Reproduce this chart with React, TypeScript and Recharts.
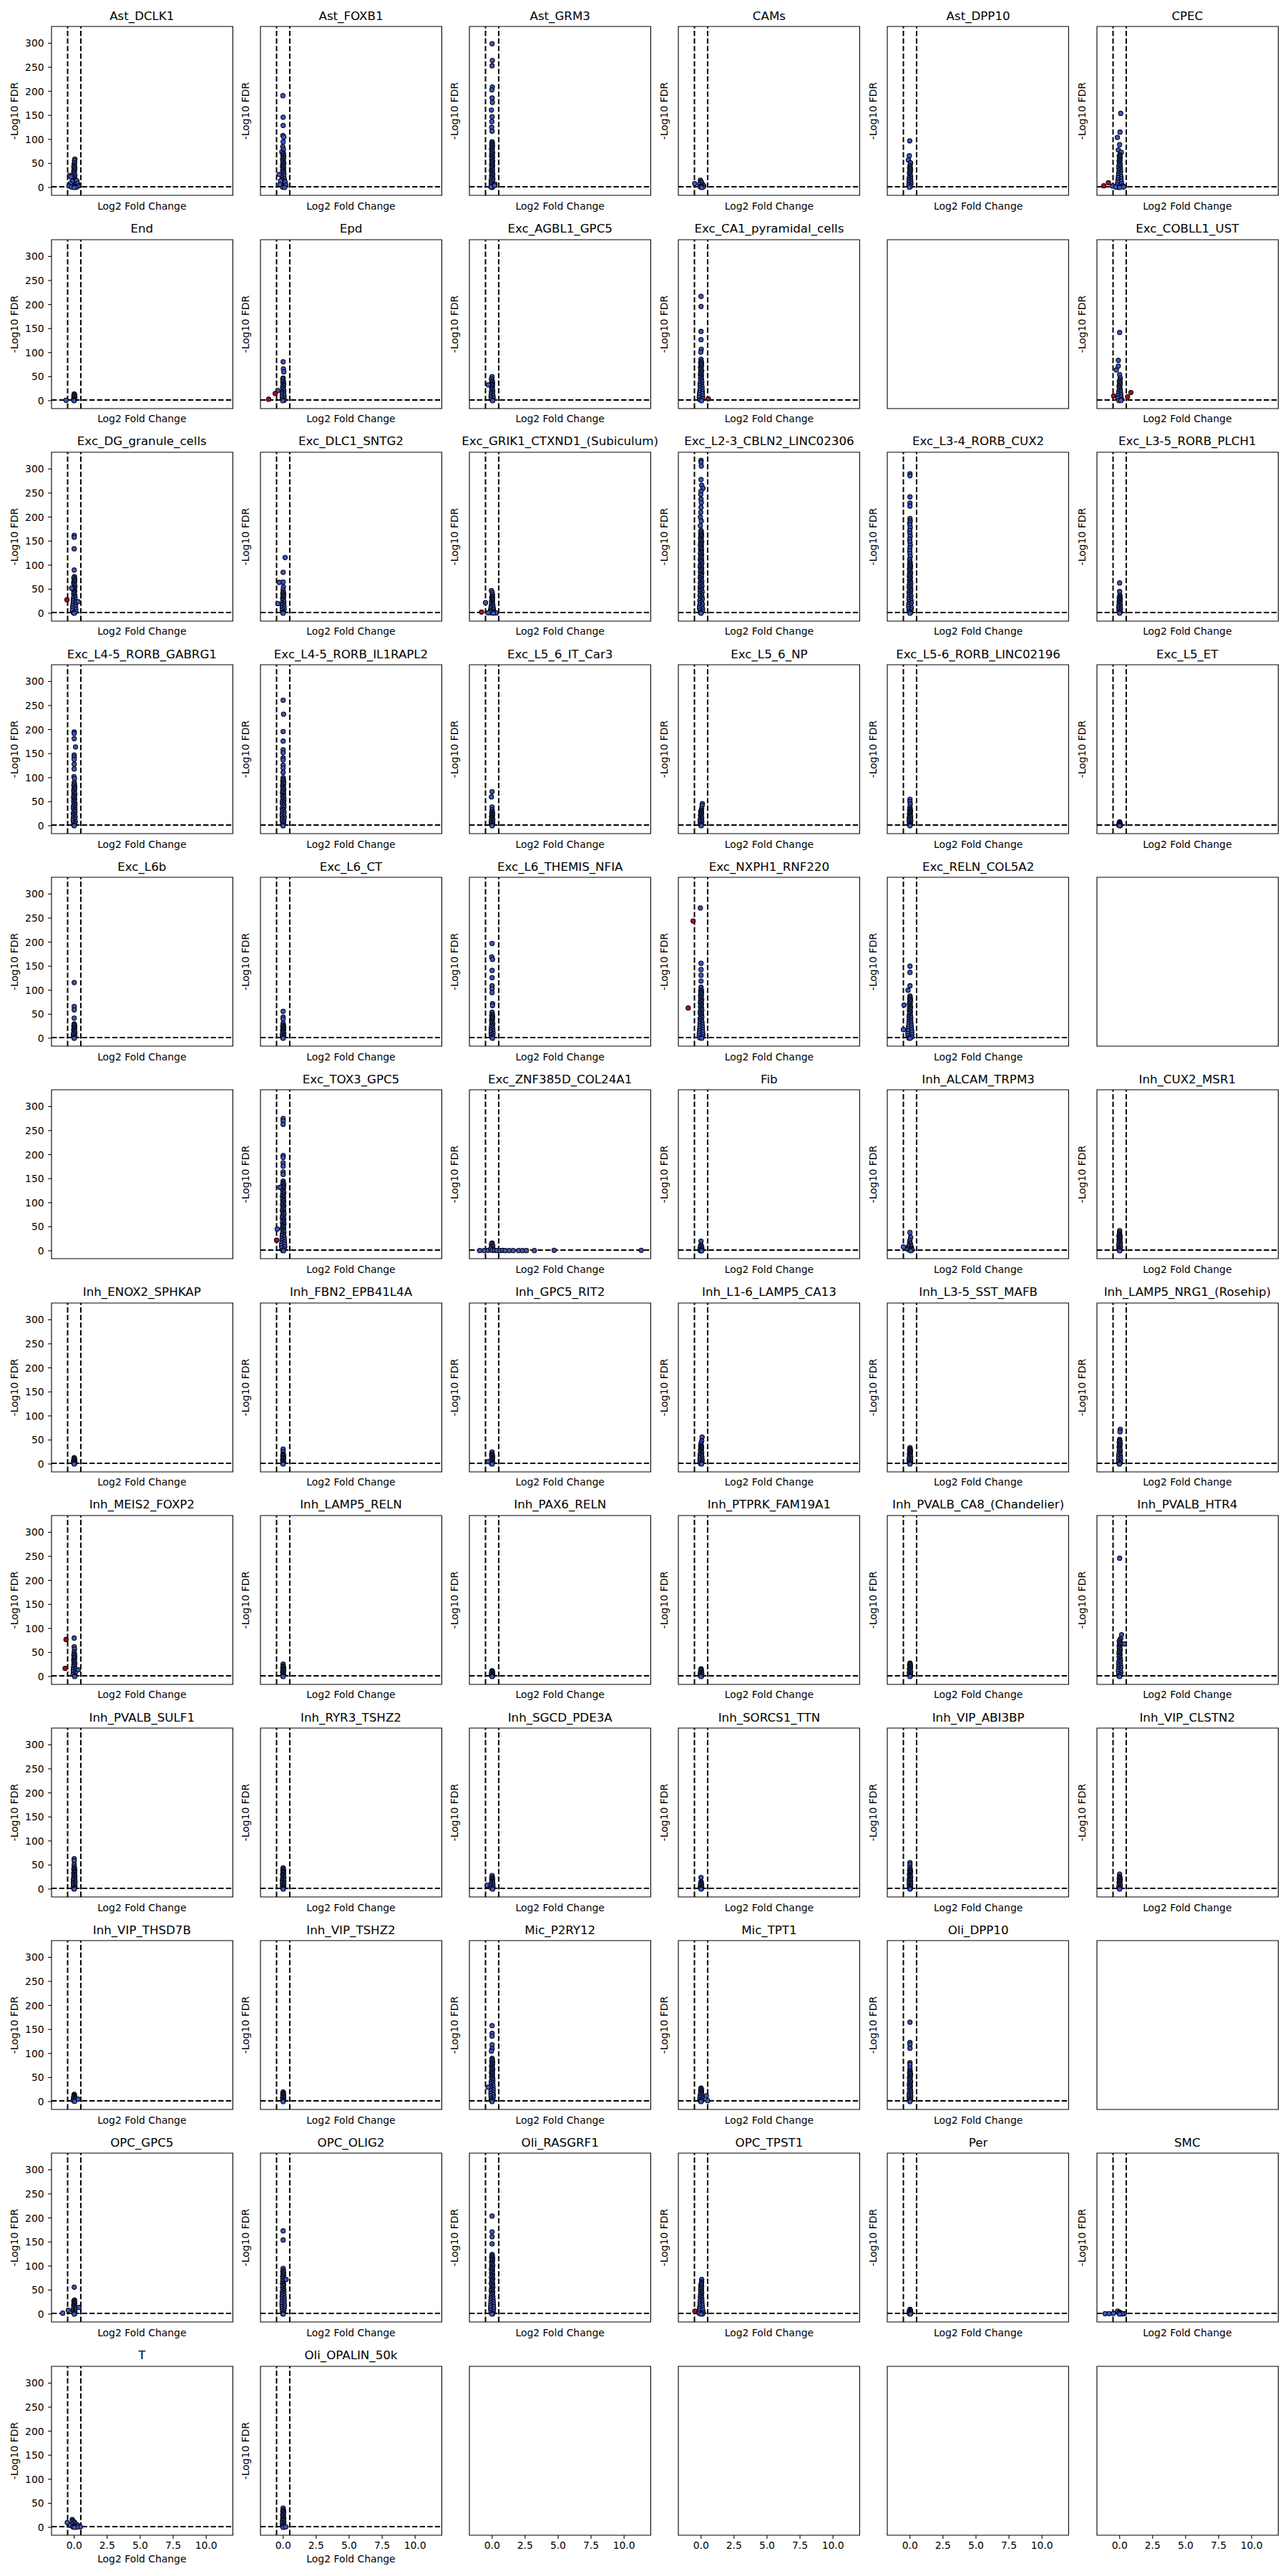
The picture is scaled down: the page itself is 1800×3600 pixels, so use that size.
import React from 'react';
import { ScatterChart, Scatter, XAxis, YAxis, ReferenceLine, ReferenceArea } from 'recharts';

type Pt = [number, number];

// ---------------- data (log2FC, -log10 FDR) ----------------
const astDCLK1: Pt[] = [[0.05,59],[0.02,56],[0.03,52],[0,49],[0.02,46],[-0.03,43.5],[0.04,41],[-0.01,38.5],[0.03,36],[-0.04,33.5],[0.01,31],[-0.02,28.5],[0.05,26],[-0.06,23.5],[0.03,21],[-0.05,18.5],[0.06,16],[-0.08,13.5],[0.08,11],[-0.1,8.5],[0.1,6],[-0.12,3.5],[0.05,1],[-0.35,25],[-0.25,22],[0.2,14],[-0.15,13],[-0.3,8],[0.25,8],[-0.4,3],[0.3,3],[-0.2,1],[0.15,0.5],[0,0]];
const astFOXB1: Pt[] = [[-0.02,191],[0,146],[0,129],[-0.02,108],[0.05,105],[0,95],[-0.03,85],[0.02,79],[-0.1,74],[0.02,71],[-0.03,68.5],[0.04,66],[-0.01,63.5],[0.03,61],[-0.04,58.5],[0.01,56],[-0.02,53.5],[0.05,51],[-0.03,48.5],[0.02,46],[-0.05,43.5],[0.03,41],[0,38.5],[-0.04,36],[0.04,33.5],[-0.02,31],[0.06,28.5],[-0.06,26],[0.05,23.5],[-0.07,21],[0.08,18.5],[-0.08,16],[0.1,13.5],[-0.1,11],[0.12,8.5],[-0.12,6],[0.1,3.5],[-0.05,1],[-0.3,27],[-0.2,14],[0.15,11],[-0.25,6],[0.2,5],[0.1,0]];
const astGRM3: Pt[] = [[0,299],[0.02,264],[0,253],[0.02,209],[-0.02,203],[0,186],[0.02,177],[-0.05,161],[0,147],[-0.02,137],[-0.03,125],[0,117],[0,95],[0.02,92.5],[-0.03,90],[0.03,87.5],[-0.01,85],[0.02,82.5],[-0.04,80],[0.01,77.5],[-0.02,75],[0.04,72.5],[-0.03,70],[0.02,67.5],[-0.04,65],[0.03,62.5],[0,60],[-0.03,57.5],[0.04,55],[-0.02,52.5],[0.02,50],[-0.04,47.5],[0.04,45],[0,42.5],[-0.03,40],[0.03,37.5],[-0.05,35],[0.02,32.5],[-0.02,30],[0.05,27.5],[-0.04,25],[0.03,22.5],[-0.03,20],[0.06,17.5],[-0.06,15],[0.04,12.5],[-0.07,10],[0.07,7.5],[-0.05,5],[0.05,2.5],[0,0],[0.22,7],[0.18,4],[-0.1,1]];
const cams: Pt[] = [[-0.05,15],[0,12],[0.05,10],[-0.1,7],[0.1,6],[0.2,4],[0,3],[-0.05,1],[0.15,1],[0.05,0],[-0.48,8]];
const astDPP10: Pt[] = [[-0.02,97],[-0.05,66],[-0.12,57],[0.05,51],[0,46],[0.02,43],[-0.03,40.5],[0.04,38],[-0.01,35.5],[0.03,33],[-0.04,30.5],[0.01,28],[-0.02,25.5],[0.05,23],[-0.05,20.5],[0.04,18],[-0.06,15.5],[0.06,13],[-0.07,10.5],[0.07,8],[-0.08,5.5],[0.06,3],[-0.04,0.5]];
const cpec: Pt[] = [[0.08,154],[0.03,115],[-0.17,104],[0,89],[-0.1,78],[0.12,73],[0.02,68],[-0.03,65.5],[0.04,63],[-0.01,60.5],[0.03,58],[-0.04,55.5],[0.01,53],[-0.02,50.5],[0.05,48],[-0.05,45.5],[0.04,43],[-0.06,40.5],[0.06,38],[-0.03,35.5],[0.07,33],[-0.07,30.5],[0.05,28],[-0.08,25.5],[0.09,23],[-0.1,20.5],[0.1,18],[-0.12,15.5],[0.12,13],[-0.14,10.5],[0.15,8],[-0.18,5.5],[0.2,3],[-0.1,0.5],[0.25,3],[-0.54,3],[0.3,1],[-0.3,1],[0,0]];
const cpecRed: Pt[] = [[-1.2,3.5],[-0.85,10]];
const endo: Pt[] = [[0,14],[0.03,12],[-0.03,10],[0.05,8],[-0.02,6],[0.04,4],[-0.05,2.5],[0.02,1],[-0.02,0],[-0.62,1]];
const epd: Pt[] = [[0,81],[0.02,66],[0.05,60],[0,47],[-0.03,45],[0.02,41],[-0.03,38.5],[0.04,36],[-0.01,33.5],[0.03,31],[-0.04,28.5],[0.01,26],[-0.02,23.5],[0.05,21],[-0.05,18.5],[0.04,16],[-0.06,13.5],[0.06,11],[-0.07,8.5],[0.07,6],[-0.05,3.5],[0.08,1],[-0.4,21],[-0.03,0]];
const epdRed: Pt[] = [[-0.6,15],[-1.1,3]];
const excAGBL1: Pt[] = [[0,50],[-0.05,45],[0.02,41],[-0.03,38.5],[0.04,36],[-0.01,33.5],[0.03,31],[-0.04,28.5],[0.01,26],[-0.02,23.5],[0.05,21],[-0.05,18.5],[0.04,16],[-0.06,13.5],[0.06,11],[-0.08,8.5],[0.08,6],[-0.06,3.5],[0.05,1],[-0.3,33],[0.04,0]];
const excCA1: Pt[] = [[0,217],[0,196],[0,144],[0,127],[0.02,107],[-0.02,101],[0,86],[0.02,82],[-0.03,79.5],[0.04,77],[-0.01,74.5],[0.03,72],[-0.04,69.5],[0.01,67],[-0.02,64.5],[0.05,62],[-0.03,59.5],[0.02,57],[-0.05,54.5],[0.03,52],[0,49.5],[-0.04,47],[0.04,44.5],[-0.02,42],[0.06,39.5],[-0.06,37],[0.05,34.5],[-0.07,32],[0.07,29.5],[-0.05,27],[0.08,24.5],[-0.08,22],[0.09,19.5],[-0.1,17],[0.1,14.5],[-0.12,12],[0.12,9.5],[-0.14,7],[0.12,4.5],[-0.08,2],[0.04,0]];
const excCA1Red: Pt[] = [[0.55,4]];
const excCOBLL1: Pt[] = [[0,142],[-0.1,84],[-0.1,72],[0,54],[0.05,47],[0.02,43],[-0.03,40.5],[0.04,38],[-0.01,35.5],[0.03,33],[-0.04,30.5],[0.01,28],[-0.02,25.5],[0.05,23],[-0.05,20.5],[0.06,18],[-0.07,15.5],[0.08,13],[-0.1,10.5],[0.1,8],[-0.12,5.5],[0.14,3],[-0.05,0.5],[0.1,0.5],[-0.25,64]];
const excCOBLL1Red: Pt[] = [[0.85,17],[-0.45,10],[0.6,8]];
const excDG: Pt[] = [[0,162],[0,158],[0,134],[0,90],[0.02,76],[-0.03,73.5],[0.04,71],[-0.01,68.5],[0.03,66],[-0.04,63.5],[0.01,61],[-0.02,58.5],[0.05,56],[-0.03,53.5],[0.02,51],[-0.05,48.5],[0.03,46],[0,43.5],[-0.04,41],[0.04,38.5],[-0.02,36],[0.06,33.5],[-0.06,31],[0.05,28.5],[-0.07,26],[0.07,23.5],[-0.08,21],[0.09,18.5],[-0.1,16],[0.1,13.5],[-0.12,11],[0.12,8.5],[-0.14,6],[0.12,3.5],[-0.06,1],[-0.2,52],[0.3,24],[0,0]];
const excDGRed: Pt[] = [[-0.55,28]];
const excDLC1: Pt[] = [[0.15,116],[0,85],[0,65],[0.02,55],[0,49],[0.02,44],[-0.03,41.5],[0.04,39],[-0.01,36.5],[0.03,34],[-0.04,31.5],[0.01,29],[-0.02,26.5],[0.05,24],[-0.05,21.5],[0.04,19],[-0.06,16.5],[0.06,14],[-0.07,11.5],[0.07,9],[-0.06,6.5],[0.05,4],[-0.03,1.5],[-0.3,64],[-0.4,20],[0,0]];
const excGRIK1: Pt[] = [[-0.05,47],[0,43],[0.03,39],[0.02,35],[-0.03,33],[0.04,31],[-0.01,29],[0.03,27],[-0.04,25],[0.01,23],[-0.02,21],[0.05,19],[-0.05,17],[0.06,15],[-0.07,13],[0.08,11],[-0.1,9],[0.1,7],[-0.12,5],[0.14,3],[-0.1,1],[-0.5,22],[-0.15,3],[0.15,2],[0.3,0.5],[-0.3,1],[0.1,0]];
const excGRIK1Red: Pt[] = [[-0.8,2.5]];
const excL23: Pt[] = [[0,318],[0,314],[0.02,306],[0,278],[0.05,266],[0.15,260],[0,254],[-0.02,247],[0,237],[0.02,230],[0,220],[-0.02,210],[-0.05,200],[0.02,192],[-0.05,182],[0,172],[0.02,169],[-0.03,166.5],[0.04,164],[-0.01,161.5],[0.03,159],[-0.04,156.5],[0.01,154],[-0.02,151.5],[0.05,149],[-0.03,146.5],[0.02,144],[-0.05,141.5],[0.03,139],[0,136.5],[-0.04,134],[0.04,131.5],[-0.02,129],[0.02,126.5],[-0.05,124],[0.05,121.5],[0,119],[-0.03,116.5],[0.03,114],[-0.06,111.5],[0.04,109],[-0.01,106.5],[0.06,104],[-0.04,101.5],[0.02,99],[-0.06,96.5],[0.05,94],[-0.02,91.5],[0.03,89],[-0.05,86.5],[0.06,84],[0,81.5],[-0.04,79],[0.04,76.5],[-0.06,74],[0.02,71.5],[-0.02,69],[0.06,66.5],[-0.05,64],[0.03,61.5],[-0.03,59],[0.07,56.5],[-0.07,54],[0.01,51.5],[0.05,49],[-0.06,46.5],[0.08,44],[-0.04,41.5],[0.03,39],[-0.08,36.5],[0.07,34],[-0.02,31.5],[0.09,29],[-0.09,26.5],[0.04,24],[-0.06,21.5],[0.1,19],[-0.1,16.5],[0.06,14],[-0.12,11.5],[0.12,9],[-0.08,6.5],[0.1,4],[-0.05,1.5],[0,0]];
const excL34: Pt[] = [[0,290],[0,286],[0,242],[0,229],[0,223],[0,197],[0.02,192],[-0.02,188],[0,184],[0.02,178],[-0.02,172],[0,166],[0.02,160],[-0.02,154],[0,148],[0.02,142],[0,136],[-0.02,130],[0,124],[0.02,118],[-0.02,112],[0,107],[0.02,104],[-0.03,101.5],[0.04,99],[-0.01,96.5],[0.03,94],[-0.04,91.5],[0.01,89],[-0.02,86.5],[0.05,84],[-0.03,81.5],[0.02,79],[-0.05,76.5],[0.03,74],[0,71.5],[-0.04,69],[0.04,66.5],[-0.02,64],[0.06,61.5],[-0.05,59],[0.03,56.5],[-0.06,54],[0.05,51.5],[-0.01,49],[0.06,46.5],[-0.07,44],[0.02,41.5],[-0.04,39],[0.07,36.5],[-0.06,34],[0.04,31.5],[-0.08,29],[0.08,26.5],[-0.03,24],[0.09,21.5],[-0.09,19],[0.05,16.5],[-0.1,14],[0.1,11.5],[-0.07,9],[0.08,6.5],[-0.06,4],[0.04,1.5],[0,0]];
const excL35: Pt[] = [[0,63],[0,45],[0.02,37],[0.02,34],[-0.03,32],[0.04,30],[-0.01,28],[0.03,26],[-0.04,24],[0.01,22],[-0.02,20],[0.05,18],[-0.05,16],[0.04,14],[-0.06,12],[0.06,10],[-0.05,8],[0.05,6],[-0.04,4],[0.03,2],[0,0]];
const excL45G: Pt[] = [[0,195],[0,192],[0,181],[0.1,164],[0,147],[0,143],[0,138],[0,128],[0,118],[-0.02,102],[0.02,98],[0,90],[0.02,86],[-0.03,83.5],[0.04,81],[-0.01,78.5],[0.03,76],[-0.04,73.5],[0.01,71],[-0.02,68.5],[0.05,66],[-0.03,63.5],[0.02,61],[-0.05,58.5],[0.03,56],[0,53.5],[-0.04,51],[0.04,48.5],[-0.02,46],[0.06,43.5],[-0.05,41],[0.03,38.5],[-0.06,36],[0.05,33.5],[-0.01,31],[0.06,28.5],[-0.07,26],[0.02,23.5],[-0.04,21],[0.07,18.5],[-0.06,16],[0.05,13.5],[-0.08,11],[0.08,8.5],[-0.05,6],[0.06,3.5],[-0.03,1],[0,0]];
const excL45I: Pt[] = [[0,261],[0.03,232],[0,196],[0,176],[0,158],[0,152],[0,141],[0,137],[0,126],[0,120],[0,111],[0,100],[0.02,96],[-0.03,93.5],[0.04,91],[-0.01,88.5],[0.03,86],[-0.04,83.5],[0.01,81],[-0.02,78.5],[0.05,76],[-0.03,73.5],[0.02,71],[-0.05,68.5],[0.03,66],[0,63.5],[-0.04,61],[0.04,58.5],[-0.02,56],[0.06,53.5],[-0.05,51],[0.03,48.5],[-0.06,46],[0.05,43.5],[-0.01,41],[0.06,38.5],[-0.07,36],[0.02,33.5],[-0.04,31],[0.07,28.5],[-0.06,26],[0.05,23.5],[-0.08,21],[0.08,18.5],[-0.05,16],[0.06,13.5],[-0.07,11],[0.05,8.5],[-0.04,6],[0.03,3.5],[-0.02,1],[0,0]];
const excL56IT: Pt[] = [[0,71],[-0.05,60],[0,39],[0,33],[0.02,29],[-0.03,27],[0.04,25],[-0.01,23],[0.03,21],[-0.04,19],[0.01,17],[-0.02,15],[0.05,13],[-0.05,11],[0.04,9],[-0.06,7],[0.05,5],[-0.03,3],[0.02,1],[0,0]];
const excL56NP: Pt[] = [[0.1,46],[0.08,42],[0.05,36],[0.02,32],[-0.03,30],[0.04,28],[-0.01,26],[0.03,24],[-0.04,22],[0.01,20],[-0.02,18],[0.05,16],[-0.05,14],[0.04,12],[-0.06,10],[0.06,8],[-0.05,6],[0.05,4],[-0.03,2],[0.02,0]];
const excL56R: Pt[] = [[0,55],[0,50],[0.02,45],[0,39],[0.02,35],[-0.03,33],[0.04,31],[-0.01,29],[0.03,27],[-0.04,25],[0.01,23],[-0.02,21],[0.05,19],[-0.05,17],[0.04,15],[-0.06,13],[0.06,11],[-0.05,9],[0.05,7],[-0.04,5],[0.03,3],[-0.02,1],[0,0]];
const excL5ET: Pt[] = [[0,8],[-0.03,6.5],[0.03,5],[-0.04,3.5],[0.05,2],[-0.06,1],[0.06,0.5],[0,0]];
const excL6b: Pt[] = [[0,116],[0,66],[0,59],[0,42],[0,30],[0.02,28],[-0.03,26],[0.04,24],[-0.01,22],[0.03,20],[-0.04,18],[0.01,16],[-0.02,14],[0.05,12],[-0.05,10],[0.04,8],[-0.06,6],[0.05,4],[-0.03,2],[0,0]];
const excL6CT: Pt[] = [[0,56],[0,44],[0,40],[0,31],[0.02,27],[-0.03,25],[0.04,23],[-0.01,21],[0.03,19],[-0.04,17],[0.01,15],[-0.02,13],[0.05,11],[-0.05,9],[0.04,7],[-0.05,5],[0.04,3],[-0.02,1],[0,0]];
const excL6TH: Pt[] = [[0,197],[-0.03,169],[0.03,164],[0,141],[0,126],[0,109],[0,103],[0,95],[0.03,72],[0.03,68],[0,54],[0.02,50],[-0.03,47.5],[0.04,45],[-0.01,42.5],[0.03,40],[-0.04,37.5],[0.01,35],[-0.02,32.5],[0.05,30],[-0.03,27.5],[0.02,25],[-0.05,22.5],[0.05,20],[-0.06,17.5],[0.06,15],[-0.07,12.5],[0.07,10],[-0.06,7.5],[0.05,5],[-0.04,2.5],[0.03,0]];
const excNXPH1: Pt[] = [[-0.05,271],[0,156],[0,143],[0,131],[0,119],[0,106],[0.02,101],[-0.03,98.5],[0.04,96],[-0.01,93.5],[0.03,91],[-0.04,88.5],[0.01,86],[-0.02,83.5],[0.05,81],[-0.03,78.5],[0.02,76],[-0.05,73.5],[0.03,71],[0,68.5],[-0.04,66],[0.04,63.5],[-0.02,61],[0.06,58.5],[-0.05,56],[0.03,53.5],[-0.06,51],[0.05,48.5],[-0.01,46],[0.06,43.5],[-0.07,41],[0.02,38.5],[-0.05,36],[0.07,33.5],[-0.07,31],[0.08,28.5],[-0.08,26],[0.09,23.5],[-0.1,21],[0.1,18.5],[-0.11,16],[0.12,13.5],[-0.13,11],[0.14,8.5],[-0.14,6],[0.12,3.5],[-0.1,1],[0.05,0]];
const excNXPH1Red: Pt[] = [[-0.6,244],[-0.97,63]];
const excRELN: Pt[] = [[0,150],[0,137],[0,109],[-0.15,100],[0,88],[0.02,85],[-0.03,82.5],[0.04,80],[-0.01,77.5],[0.03,75],[-0.04,72.5],[0.01,70],[-0.02,67.5],[0.05,65],[-0.03,62.5],[0.02,60],[-0.05,57.5],[0.03,55],[0,52.5],[-0.04,50],[0.04,47.5],[-0.06,45],[0.06,42.5],[-0.05,40],[0.05,37.5],[-0.07,35],[0.07,32.5],[-0.08,30],[0.08,27.5],[-0.1,25],[0.1,22.5],[-0.12,20],[0.12,17.5],[-0.14,15],[0.14,12.5],[-0.16,10],[0.15,7.5],[-0.15,5],[0.12,2.5],[-0.08,0.5],[-0.45,69],[-0.5,18],[0,0]];
const excTOX3: Pt[] = [[0,275],[0,270],[0,263],[0,198],[0,194],[0,183],[0,176],[0,164],[0,159],[0,145],[0.02,141],[-0.03,138.5],[0.04,136],[-0.01,133.5],[0.03,131],[-0.04,128.5],[0.01,126],[-0.02,123.5],[0.05,121],[-0.03,118.5],[0.02,116],[-0.05,113.5],[0.03,111],[0,108.5],[-0.04,106],[0.04,103.5],[-0.02,101],[0.02,98.5],[-0.05,96],[0.05,93.5],[0,91],[-0.03,88.5],[0.03,86],[-0.06,83.5],[0.04,81],[-0.01,78.5],[0.06,76],[-0.04,73.5],[0.02,71],[-0.06,68.5],[0.05,66],[-0.02,63.5],[0.03,61],[-0.05,58.5],[0.06,56],[0,53.5],[-0.04,51],[0.04,48.5],[-0.06,46],[0.02,43.5],[-0.02,41],[0.06,38.5],[-0.05,36],[0.03,33.5],[-0.07,31],[0.07,28.5],[-0.08,26],[0.08,23.5],[-0.09,21],[0.1,18.5],[-0.1,16],[0.11,13.5],[-0.12,11],[0.12,8.5],[-0.1,6],[0.08,3.5],[-0.05,1],[-0.25,132],[-0.45,45],[0.03,0]];
const excTOX3Red: Pt[] = [[-0.5,22]];
const excZNF: Pt[] = [[-0.94,0.5],[-0.6,0.5],[-0.3,1],[0,16],[-0.05,13.5],[0.05,11],[-0.03,8.5],[0.04,6],[-0.1,4],[0.1,2.5],[0,1],[0.2,1],[0.37,0.5],[0.6,0.5],[0.8,1],[1.0,0.5],[1.3,0.5],[1.6,0.5],[2.0,0.5],[2.3,0.5],[2.6,0.5],[3.2,0.5],[4.7,1],[11.3,1]];
const fib: Pt[] = [[0,20],[0,12],[-0.04,10],[0.05,8],[-0.06,6],[0.07,4],[-0.08,2.5],[0.06,1],[-0.05,0],[0.05,0]];
const inhALCAM: Pt[] = [[0,38],[0.05,28],[0,22],[-0.03,18],[0.03,15],[0,12],[-0.1,10],[0.1,8],[-0.12,6],[0.12,4.5],[-0.15,3],[0.15,2],[0,1],[0.05,0],[-0.5,8]];
const inhCUX2: Pt[] = [[0,42],[0,38],[-0.02,35],[-0.05,30],[0.02,33],[-0.03,31],[0.04,29],[-0.01,27],[0.03,25],[-0.04,23],[0.01,21],[-0.02,19],[0.05,17],[-0.05,15],[0.04,13],[-0.06,11],[0.06,9],[-0.05,7],[0.05,5],[-0.04,3],[0.03,1],[0,0]];
const inhENOX2: Pt[] = [[0,13],[0.02,11],[-0.03,9],[0.04,7.5],[-0.04,6],[0.05,4.5],[-0.05,3],[0.04,1.5],[0,0]];
const inhFBN2: Pt[] = [[0,31],[0,26],[0,21],[0.02,19],[-0.03,17],[0.04,15],[-0.01,13],[0.03,11],[-0.04,9],[0.01,7],[-0.02,5],[0.04,3],[-0.03,1],[0,0]];
const inhGPC5: Pt[] = [[0,25],[-0.03,21],[0.02,19],[-0.03,17],[0.04,15],[-0.01,13],[0.03,11],[-0.04,9],[0.01,7],[-0.06,5],[0.05,3],[-0.05,1],[0,0],[-0.3,5]];
const inhL16: Pt[] = [[0.08,56],[0.05,48],[0,43],[0.02,39],[-0.03,37],[0.04,35],[-0.01,33],[0.03,31],[-0.04,29],[0.01,27],[-0.02,25],[0.05,23],[-0.05,21],[0.04,19],[-0.06,17],[0.06,15],[-0.07,13],[0.07,11],[-0.08,9],[0.08,7],[-0.07,5],[0.06,3],[-0.04,1],[0.04,0]];
const inhL35: Pt[] = [[0,34],[0.02,31],[-0.03,29],[0.04,27],[-0.01,25],[0.03,23],[-0.04,21],[0.01,19],[-0.02,17],[0.05,15],[-0.05,13],[0.04,11],[-0.06,9],[0.05,7],[-0.05,5],[0.04,3],[-0.02,1],[0,0]];
const inhRosehip: Pt[] = [[0.05,72],[0.03,67],[0,51],[0.02,48],[-0.03,45.5],[0.04,43],[-0.01,40.5],[0.03,38],[-0.04,35.5],[0.01,33],[-0.02,30.5],[0.05,28],[-0.03,25.5],[0.02,23],[-0.05,20.5],[0.05,18],[-0.06,15.5],[0.06,13],[-0.07,10.5],[0.07,8],[-0.06,5.5],[0.05,3],[-0.03,0.5],[0,0]];
const inhMEIS2: Pt[] = [[0,80],[0,62],[0.02,57],[0,51],[0.02,47],[-0.03,44.5],[0.04,42],[-0.01,39.5],[0.03,37],[-0.04,34.5],[0.01,32],[-0.02,29.5],[0.05,27],[-0.03,24.5],[0.02,22],[-0.05,19.5],[0.05,17],[-0.06,14.5],[0.06,12],[-0.07,9.5],[0.07,7],[-0.08,4.5],[0.06,2],[0.03,0],[0.3,14]];
const inhMEIS2Red: Pt[] = [[-0.62,77],[-0.69,17]];
const inhLAMP5R: Pt[] = [[0,26],[0,22],[0.02,20],[-0.03,18],[0.04,16],[-0.01,14],[0.03,12],[-0.04,10],[0.01,8],[-0.02,6],[0.04,4],[-0.03,2],[0,0]];
const inhPAX6: Pt[] = [[0,12],[0.02,10.5],[-0.03,9],[0.04,7.5],[-0.04,6],[0.05,4.5],[-0.05,3],[0.04,1.5],[0,0]];
const inhPTPRK: Pt[] = [[0,16],[0.02,14],[-0.03,12],[0.04,10],[-0.04,8.5],[0.05,7],[-0.05,5.5],[0.06,4],[-0.06,2.5],[0.04,1],[0,0]];
const inhCA8: Pt[] = [[0,28],[0.02,26],[-0.03,24],[0.04,22],[-0.01,20],[0.03,18],[-0.04,16],[0.01,14],[-0.02,12],[0.05,10],[-0.05,8],[0.04,6],[-0.04,4],[0.03,2],[0,0]];
const inhHTR4: Pt[] = [[0,246],[0.15,87],[0.08,79],[0.02,76],[-0.03,73.5],[0.04,71],[-0.01,68.5],[0.03,66],[-0.04,63.5],[0.01,61],[-0.02,58.5],[0.05,56],[-0.03,53.5],[0.02,51],[-0.05,48.5],[0.03,46],[0,43.5],[-0.04,41],[0.04,38.5],[-0.02,36],[0.06,33.5],[-0.06,31],[0.05,28.5],[-0.07,26],[0.07,23.5],[-0.05,21],[0.08,18.5],[-0.08,16],[0.06,13.5],[-0.09,11],[0.09,8.5],[-0.07,6],[0.06,3.5],[-0.04,1],[0,0],[0.35,68]];
const inhSULF1: Pt[] = [[0,63],[0,59],[0,51],[0,46],[0.02,43],[-0.03,41],[0.04,39],[-0.01,37],[0.03,35],[-0.04,33],[0.01,31],[-0.02,29],[0.05,27],[-0.03,25],[0.02,23],[-0.05,21],[0.05,19],[-0.06,17],[0.06,15],[-0.05,13],[0.05,11],[-0.06,9],[0.06,7],[-0.05,5],[0.04,3],[-0.03,1],[0,0]];
const inhRYR3: Pt[] = [[0,44],[0.02,41],[-0.03,39],[0.04,37],[-0.01,35],[0.03,33],[-0.04,31],[0.01,29],[-0.02,27],[0.05,25],[-0.03,23],[0.02,21],[-0.05,19],[0.05,17],[-0.04,15],[0.04,13],[-0.05,11],[0.05,9],[-0.04,7],[0.04,5],[-0.03,3],[0.02,1],[0,0]];
const inhSGCD: Pt[] = [[0,28],[0.02,24],[-0.03,22],[0.04,20],[-0.01,18],[0.03,16],[-0.04,14],[0.05,12],[-0.06,10],[0.06,8],[-0.07,6],[0.07,4],[-0.05,2],[0.04,0],[-0.38,8]];
const inhSORCS1: Pt[] = [[0,24],[0,15],[0.02,13],[-0.03,11],[0.04,9],[-0.04,7],[0.05,5],[-0.05,3],[0.03,1],[0,0]];
const inhABI3BP: Pt[] = [[0,55],[0,51],[0,45],[0.02,41],[-0.03,39],[0.04,37],[-0.01,35],[0.03,33],[-0.04,31],[0.01,29],[-0.02,27],[0.05,25],[-0.03,23],[0.02,21],[-0.05,19],[0.05,17],[-0.04,15],[0.04,13],[-0.05,11],[0.05,9],[-0.04,7],[0.04,5],[-0.03,3],[0.02,1],[0,0]];
const inhCLSTN2: Pt[] = [[0,31],[0,26],[0.02,24],[-0.03,22],[0.04,20],[-0.01,18],[0.03,16],[-0.04,14],[0.01,12],[-0.02,10],[0.05,8],[-0.05,6],[0.04,4],[-0.03,2],[0,0]];
const inhTHSD7B: Pt[] = [[0,15],[0.02,13],[-0.03,11],[0.04,9.5],[-0.04,8],[0.05,6.5],[-0.05,5],[0.06,3.5],[-0.05,2],[0.03,0.5],[0.3,5]];
const inhTSHZ2: Pt[] = [[0,20],[0.02,18],[-0.03,16],[0.03,14],[-0.02,12],[0.04,10],[-0.04,8],[0.03,6],[-0.03,4],[0.02,2],[0,0]];
const micP2RY12: Pt[] = [[0,158],[0,142],[0,136],[0,118],[0,110],[-0.05,105],[0,90],[0.02,87],[-0.03,84.5],[0.04,82],[-0.01,79.5],[0.03,77],[-0.04,74.5],[0.01,72],[-0.02,69.5],[0.05,67],[-0.03,64.5],[0.02,62],[-0.05,59.5],[0.03,57],[0,54.5],[-0.04,52],[0.04,49.5],[-0.02,47],[0.06,44.5],[-0.06,42],[0.05,39.5],[-0.05,37],[0.06,34.5],[-0.07,32],[0.07,29.5],[-0.06,27],[0.08,24.5],[-0.08,22],[0.07,19.5],[-0.09,17],[0.09,14.5],[-0.08,12],[0.08,9.5],[-0.07,7],[0.06,4.5],[-0.04,2],[0,0],[-0.3,30]];
const micTPT1: Pt[] = [[0,28],[0.02,26],[-0.03,24],[0.04,22],[-0.01,20],[0.03,18],[-0.04,16],[0.05,14],[-0.06,12],[0.07,10],[-0.08,8],[0.08,6],[-0.09,4],[0.07,2.5],[-0.05,1],[0,0],[0.4,12],[0.5,2]];
const oliDPP10: Pt[] = [[0,165],[0,123],[0,119],[0,111],[0,81],[0,77],[0,70],[0,65],[0.02,62],[-0.03,59.5],[0.04,57],[-0.01,54.5],[0.03,52],[-0.04,49.5],[0.01,47],[-0.02,44.5],[0.05,42],[-0.03,39.5],[0.02,37],[-0.05,34.5],[0.03,32],[0,29.5],[-0.04,27],[0.04,24.5],[-0.02,22],[0.06,19.5],[-0.05,17],[0.05,14.5],[-0.06,12],[0.06,9.5],[-0.05,7],[0.04,4.5],[-0.03,2],[0,0]];
const opcGPC5: Pt[] = [[0,56],[0.02,29],[-0.03,27],[0.04,25],[-0.01,23],[0.03,21],[-0.04,19],[0.01,17],[-0.02,15],[0.05,13],[-0.05,11],[0.06,9],[-0.06,7],[0.05,5],[-0.04,3],[0.03,1],[0,0],[-0.87,2],[0.37,14],[-0.45,8]];
const opcOLIG2: Pt[] = [[0,173],[0,154],[0,95],[0.02,91],[-0.03,88.5],[0.04,86],[-0.01,83.5],[0.03,81],[-0.04,78.5],[0.01,76],[-0.02,73.5],[0.05,71],[-0.03,68.5],[0.02,66],[-0.05,63.5],[0.03,61],[0,58.5],[-0.04,56],[0.04,53.5],[-0.02,51],[0.06,48.5],[-0.06,46],[0.05,43.5],[-0.05,41],[0.06,38.5],[-0.07,36],[0.07,33.5],[-0.06,31],[0.08,28.5],[-0.08,26],[0.07,23.5],[-0.09,21],[0.09,18.5],[-0.08,16],[0.08,13.5],[-0.07,11],[0.06,8.5],[-0.05,6],[0.04,3.5],[-0.03,1],[0,0],[0.22,72]];
const oliRASGRF1: Pt[] = [[0,204],[0,171],[0,161],[0,146],[0,124],[0.02,121],[-0.03,118.5],[0.04,116],[-0.01,113.5],[0.03,111],[-0.04,108.5],[0.01,106],[-0.02,103.5],[0.05,101],[-0.03,98.5],[0.02,96],[-0.05,93.5],[0.03,91],[0,88.5],[-0.04,86],[0.04,83.5],[-0.02,81],[0.02,78.5],[-0.05,76],[0.05,73.5],[0,71],[-0.03,68.5],[0.03,66],[-0.06,63.5],[0.04,61],[-0.01,58.5],[0.06,56],[-0.04,53.5],[0.02,51],[-0.06,48.5],[0.05,46],[-0.02,43.5],[0.03,41],[-0.05,38.5],[0.06,36],[-0.07,33.5],[0.07,31],[-0.08,28.5],[0.08,26],[-0.09,23.5],[0.09,21],[-0.1,18.5],[0.1,16],[-0.11,13.5],[0.11,11],[-0.1,8.5],[0.09,6],[-0.07,3.5],[0.05,1],[0,0]];
const opcTPST1: Pt[] = [[0.05,72],[0.05,67],[0.04,64],[-0.01,61.5],[0.05,59],[-0.02,56.5],[0.03,54],[-0.03,51.5],[0.04,49],[-0.02,46.5],[0.05,44],[-0.03,41.5],[0.03,39],[-0.05,36.5],[0.05,34],[-0.04,31.5],[0.06,29],[-0.06,26.5],[0.07,24],[-0.07,21.5],[0.08,19],[-0.09,16.5],[0.1,14],[-0.12,11.5],[0.12,9],[-0.15,6.5],[0.16,4],[-0.15,2],[0.12,0.5],[0,0]];
const opcTPST1Red: Pt[] = [[-0.47,6]];
const per: Pt[] = [[0,10],[0.02,8.5],[-0.04,7],[0.05,5.5],[-0.06,4],[0.06,2.5],[-0.04,1],[0.03,0]];
const smc: Pt[] = [[-1.1,1],[-0.8,1],[-0.47,1.5],[-0.15,6],[0,4],[-0.05,2],[0.15,1.5],[0.35,1],[0.2,0.5],[0,0]];
const tCells: Pt[] = [[-0.15,16],[-0.1,13],[0,11],[0.05,9],[-0.2,7],[0.15,6],[-0.3,4],[0.3,4],[0,3],[0.47,1],[-0.1,1],[0.2,0.5],[0,0],[-0.53,10]];
const oliOPALIN: Pt[] = [[0,40],[0.02,36],[-0.03,34],[0.04,32],[-0.01,30],[0.03,28],[-0.04,26],[0.01,24],[-0.02,22],[0.05,20],[-0.03,18],[0.02,16],[-0.05,14],[0.05,12],[-0.04,10],[0.04,8],[-0.05,6],[0.05,4],[-0.03,2],[0,0],[0.2,1]];

// ---------------- axes / thresholds ----------------
const xTicks = [0, 2.5, 5, 7.5, 10];
const yTicks = [0, 50, 100, 150, 200, 250, 300];
const xDomain: [number, number] = [-1.72, 12.02];
const yDomain: [number, number] = [-16.4, 334.8];
const fcCutoffs = [-0.5, 0.5];
const fdrCutoff = 1.3;

type Panel = { title: string; blue: Pt[]; red: Pt[] } | null;
const P = (title: string, blue: Pt[], red: Pt[] = []): Panel => ({ title, blue, red });

const panels: Panel[] = [
  P('Ast_DCLK1', astDCLK1), P('Ast_FOXB1', astFOXB1), P('Ast_GRM3', astGRM3), P('CAMs', cams), P('Ast_DPP10', astDPP10), P('CPEC', cpec, cpecRed),
  P('End', endo), P('Epd', epd, epdRed), P('Exc_AGBL1_GPC5', excAGBL1), P('Exc_CA1_pyramidal_cells', excCA1, excCA1Red), null, P('Exc_COBLL1_UST', excCOBLL1, excCOBLL1Red),
  P('Exc_DG_granule_cells', excDG, excDGRed), P('Exc_DLC1_SNTG2', excDLC1), P('Exc_GRIK1_CTXND1_(Subiculum)', excGRIK1, excGRIK1Red), P('Exc_L2-3_CBLN2_LINC02306', excL23), P('Exc_L3-4_RORB_CUX2', excL34), P('Exc_L3-5_RORB_PLCH1', excL35),
  P('Exc_L4-5_RORB_GABRG1', excL45G), P('Exc_L4-5_RORB_IL1RAPL2', excL45I), P('Exc_L5_6_IT_Car3', excL56IT), P('Exc_L5_6_NP', excL56NP), P('Exc_L5-6_RORB_LINC02196', excL56R), P('Exc_L5_ET', excL5ET),
  P('Exc_L6b', excL6b), P('Exc_L6_CT', excL6CT), P('Exc_L6_THEMIS_NFIA', excL6TH), P('Exc_NXPH1_RNF220', excNXPH1, excNXPH1Red), P('Exc_RELN_COL5A2', excRELN), null,
  null, P('Exc_TOX3_GPC5', excTOX3, excTOX3Red), P('Exc_ZNF385D_COL24A1', excZNF), P('Fib', fib), P('Inh_ALCAM_TRPM3', inhALCAM), P('Inh_CUX2_MSR1', inhCUX2),
  P('Inh_ENOX2_SPHKAP', inhENOX2), P('Inh_FBN2_EPB41L4A', inhFBN2), P('Inh_GPC5_RIT2', inhGPC5), P('Inh_L1-6_LAMP5_CA13', inhL16), P('Inh_L3-5_SST_MAFB', inhL35), P('Inh_LAMP5_NRG1_(Rosehip)', inhRosehip),
  P('Inh_MEIS2_FOXP2', inhMEIS2, inhMEIS2Red), P('Inh_LAMP5_RELN', inhLAMP5R), P('Inh_PAX6_RELN', inhPAX6), P('Inh_PTPRK_FAM19A1', inhPTPRK), P('Inh_PVALB_CA8_(Chandelier)', inhCA8), P('Inh_PVALB_HTR4', inhHTR4),
  P('Inh_PVALB_SULF1', inhSULF1), P('Inh_RYR3_TSHZ2', inhRYR3), P('Inh_SGCD_PDE3A', inhSGCD), P('Inh_SORCS1_TTN', inhSORCS1), P('Inh_VIP_ABI3BP', inhABI3BP), P('Inh_VIP_CLSTN2', inhCLSTN2),
  P('Inh_VIP_THSD7B', inhTHSD7B), P('Inh_VIP_TSHZ2', inhTSHZ2), P('Mic_P2RY12', micP2RY12), P('Mic_TPT1', micTPT1), P('Oli_DPP10', oliDPP10), null,
  P('OPC_GPC5', opcGPC5), P('OPC_OLIG2', opcOLIG2), P('Oli_RASGRF1', oliRASGRF1), P('OPC_TPST1', opcTPST1, opcTPST1Red), P('Per', per), P('SMC', smc),
  P('T', tCells), P('Oli_OPALIN_50k', oliOPALIN), null, null, null, null,
];

// ---------------- layout ----------------
const AX_L0 = 71.6;
const COL_STEP = 292.2;
const AX_T0 = 37.3;
const ROW_STEP = 297.2;
const AX_W = 253.4;
const AX_H = 236;
const Y_AXIS_W = 60;
const X_AXIS_H = 40;
const M = 5;
const FONT = "'DejaVu Sans', 'Liberation Sans', sans-serif";
const BLUE = '#3d55c4';
const RED = '#b40426';

const makeDot = (fill: string) => (p: any) => {
  if (p == null || p.cx == null || p.cy == null) return <g />;
  return <circle cx={p.cx} cy={p.cy} r={3.1} fill={fill} stroke="#000" strokeWidth={1.05} />;
};
const blueDot = makeDot(BLUE);
const redDot = makeDot(RED);

const tickStyle = { fill: '#000', fontSize: 13.9, fontFamily: FONT };
const tickLineStyle = { stroke: '#000', strokeWidth: 1.1 };

function PanelView({ idx, panel }: { idx: number; panel: Panel }) {
  const r = Math.floor(idx / 6);
  const c = idx % 6;
  const axL = AX_L0 + c * COL_STEP;
  const axT = AX_T0 + r * ROW_STEP;
  const axB = axT + AX_H;
  const isBottom = r === 11;
  const isFirstCol = c === 0;
  const blue = panel ? panel.blue.map(([x, y]) => ({ x, y })) : [];
  const red = panel ? panel.red.map(([x, y]) => ({ x, y })) : [];
  const chartW = Y_AXIS_W + AX_W + 2 * M;
  const chartH = M + AX_H + X_AXIS_H;

  return (
    <>
      <div style={{ position: 'absolute', left: axL - Y_AXIS_W - M, top: axT - M }}>
        <ScatterChart width={chartW} height={chartH} margin={{ top: M, right: M, left: M, bottom: 0 }}>
          <XAxis
            type="number"
            dataKey="x"
            domain={xDomain}
            ticks={xTicks}
            interval={0}
            allowDataOverflow
            height={X_AXIS_H}
            tickSize={4.9}
            tickMargin={4.6}
            axisLine={false}
            tickLine={tickLineStyle}
            tick={isBottom ? tickStyle : false}
            tickFormatter={(v: number) => v.toFixed(1)}
          />
          <YAxis
            type="number"
            dataKey="y"
            domain={yDomain}
            ticks={yTicks}
            interval={0}
            allowDataOverflow
            width={Y_AXIS_W}
            tickSize={4.9}
            tickMargin={5.5}
            axisLine={false}
            tickLine={tickLineStyle}
            tick={isFirstCol ? tickStyle : false}
          />
          <ReferenceArea
            x1={xDomain[0]}
            x2={xDomain[1]}
            y1={yDomain[0]}
            y2={yDomain[1]}
            fill="none"
            fillOpacity={0}
            stroke="#000"
            strokeWidth={1.1}
            ifOverflow="visible"
          />
          <Scatter data={blue} isAnimationActive={false} shape={blueDot} />
          {red.length > 0 && <Scatter data={red} isAnimationActive={false} shape={redDot} />}
          {panel && fcCutoffs.map((v) => (
            <ReferenceLine key={'v' + v} x={v} stroke="#000" strokeWidth={2} strokeDasharray="7.4 3.2" />
          ))}
          {panel && <ReferenceLine y={fdrCutoff} stroke="#000" strokeWidth={2} strokeDasharray="7.4 3.2" />}
        </ScatterChart>
      </div>
      {panel && (
        <>
          <div
            style={{
              position: 'absolute',
              left: axL + AX_W / 2,
              top: axT - 22.4,
              transform: 'translateX(-50%)',
              fontSize: 16.67,
              lineHeight: 1,
              fontFamily: FONT,
              whiteSpace: 'nowrap',
              color: '#000',
            }}
          >
            {panel.title}
          </div>
          <div
            style={{
              position: 'absolute',
              left: axL + AX_W / 2,
              top: axB + (isBottom ? 34.4 : 15.7),
              transform: 'translate(-50%, -50%)',
              fontSize: 13.9,
              lineHeight: 1,
              fontFamily: FONT,
              whiteSpace: 'nowrap',
              color: '#000',
            }}
          >
            Log2 Fold Change
          </div>
          <div
            style={{
              position: 'absolute',
              left: axL - (isFirstCol ? 50.6 : 19.6),
              top: axT + AX_H / 2,
              transform: 'translate(-50%, -50%) rotate(-90deg)',
              fontSize: 13.9,
              lineHeight: 1,
              fontFamily: FONT,
              whiteSpace: 'nowrap',
              color: '#000',
            }}
          >
            -Log10 FDR
          </div>
        </>
      )}
    </>
  );
}

export default function App() {
  return (
    <div
      style={{
        position: 'absolute',
        left: 0,
        top: 0,
        width: 1800,
        height: 3600,
        background: '#fff',
        fontFamily: FONT,
        overflow: 'hidden',
      }}
    >
      {panels.map((p, i) => (
        <PanelView key={i} idx={i} panel={p} />
      ))}
    </div>
  );
}
